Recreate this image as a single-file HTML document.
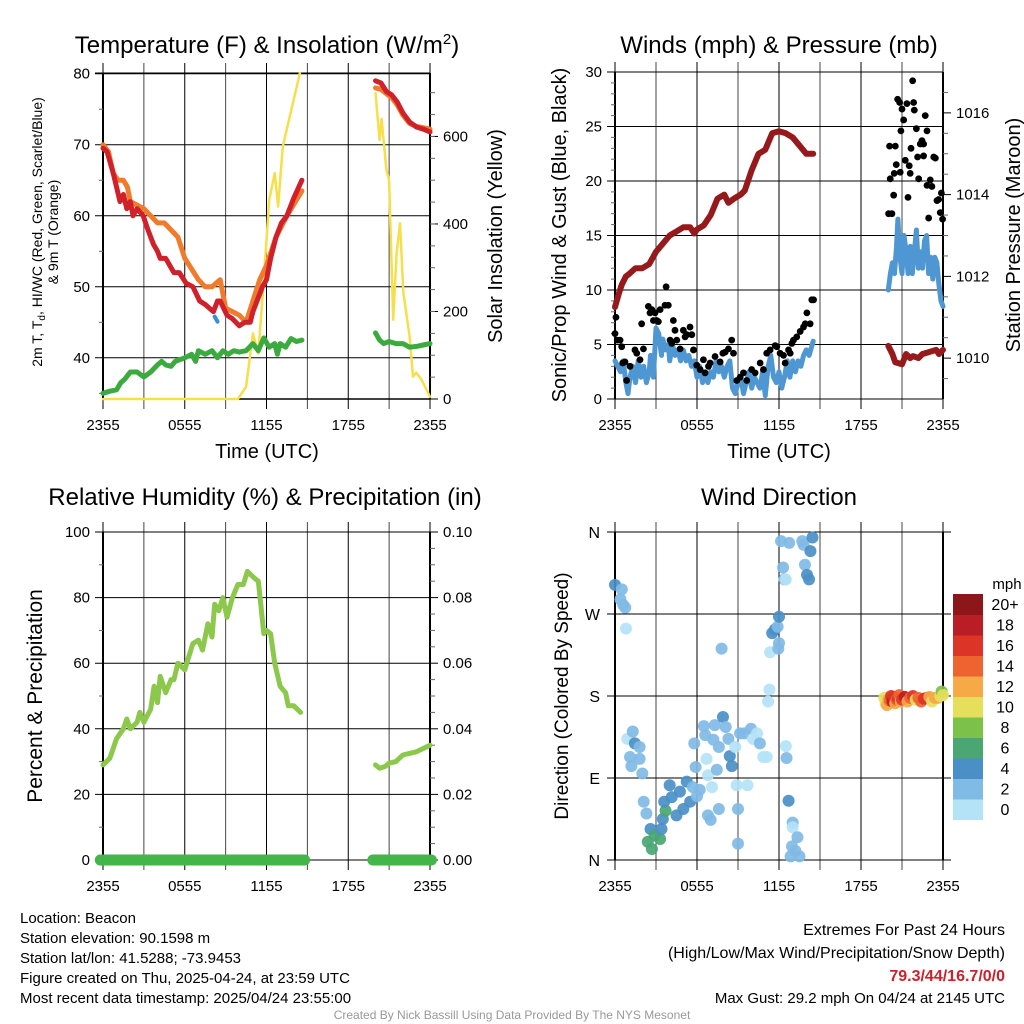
<!DOCTYPE html>
<html><head><meta charset="utf-8"><style>
html,body{margin:0;padding:0;background:#fff;width:1024px;height:1024px;overflow:hidden}
svg text{font-family:"Liberation Sans",sans-serif}
</style></head><body>
<svg id="c" width="1024" height="1024" xmlns="http://www.w3.org/2000/svg"></svg>
<script>
// ---------- DATA (time in hours after 2355 UTC) ----------
const xTickHours=[0,6,12,18,24];
const xTickLabels=["2355","0555","1155","1755","2355"];
const tRed1=[[0,69.5],[0.3,69],[0.75,66],[1.0,64],[1.25,62],[1.5,63],[1.75,61],[2.0,62],[2.2,60],[2.5,61],[2.95,60],[3.3,58],[3.7,56],[4.0,55],[4.2,54],[4.6,54],[5.2,52],[5.6,52],[6.1,50.5],[6.6,50],[7.1,48],[7.5,47.5],[8.1,46.5],[8.4,48],[8.6,48],[9.1,46],[9.5,45.5],[10.0,44.5],[10.4,45],[10.8,45],[11.0,46.5],[11.3,48],[11.7,50],[12.0,51],[12.3,54],[12.7,57],[13.1,59],[13.5,60],[14.0,62.5],[14.6,65]];
const tOrange1=[[0,70],[0.4,69],[0.75,66],[1.1,65],[1.5,65],[1.8,64],[2.0,62],[2.5,61.5],[3.0,61],[3.5,60],[4.0,59],[4.5,59],[5.0,58],[5.5,57],[6.0,54],[6.5,52.5],[7.0,51],[7.5,50],[8.0,50],[8.6,51],[9.0,47],[9.5,46.5],[10.0,46],[10.5,45],[11.0,48],[11.5,51],[12.0,53],[12.7,57],[13.5,60],[14.6,63.5]];
const tRed2=[[20.0,79],[20.4,78.7],[20.8,77.5],[21.2,77],[21.6,76],[22.0,74.5],[22.5,73.2],[23.0,72.5],[23.5,72.2],[24,71.8]];
const tOrange2=[[20.0,78],[20.4,77.8],[20.8,77.2],[21.2,76.6],[21.6,75.6],[22.0,74.2],[22.5,73],[23.0,72.6],[23.5,72.4],[24,72.2]];
const tBlue=[[8.2,45.8],[8.4,45.1]];
const tGreen1=[[0,35],[0.5,35.3],[1.0,35.5],[1.3,36.5],[1.6,37],[2.0,38],[2.5,38],[3.0,37.3],[3.5,38],[4.0,39],[4.3,39.5],[4.6,39],[5.0,38.8],[5.3,39.5],[6.0,40],[6.5,40.5],[6.8,39.5],[7.0,41],[7.5,40.5],[8.0,41],[8.4,40],[8.8,41],[9.2,40.5],[9.6,41],[10.0,40.8],[10.5,41],[11.0,42],[11.4,41],[11.8,42.8],[12.2,41.5],[12.6,42],[12.8,40.5],[13.0,42],[13.4,41.5],[13.8,42.7],[14.2,42.3],[14.6,42.5]];
const tGreen2=[[20.0,43.5],[20.3,42.5],[20.6,42],[21.0,42.3],[21.5,42],[22.0,42],[22.5,41.5],[23.0,41.6],[23.5,41.8],[24,42]];
const sol1=[[0,0],[9.9,0],[10.5,28],[11.0,150],[11.4,104],[11.8,272],[12.2,455],[12.6,516],[12.85,440],[13.2,577],[14.45,745]];
const sol2=[[20.0,699],[20.3,592],[20.45,640],[20.8,524],[21.0,500],[21.3,181],[21.55,333],[21.8,402],[22.05,242],[22.5,143],[22.75,51],[23.0,60],[23.4,43],[24,5]];
const wind1=[[0,3.5],[0.2,3],[0.4,2.5],[0.6,3.5],[0.8,1.5],[0.95,0.5],[1.1,2],[1.3,3],[1.5,1.5],[1.7,3.5],[1.9,2],[2.1,3],[2.3,1.5],[2.5,2.5],[2.6,4],[2.8,2],[2.9,4],[3.0,6.5],[3.2,6],[3.4,4],[3.5,5.5],[3.7,4.5],[3.9,5],[4.0,3.5],[4.2,5],[4.4,4],[4.6,4.5],[4.8,3.5],[5.0,4.5],[5.2,3.5],[5.4,4],[5.6,3],[5.8,3.5],[6.0,2],[6.2,3],[6.4,1.5],[6.6,2.5],[6.8,1.5],[7.0,2.5],[7.2,2],[7.4,3.5],[7.6,2.5],[7.8,3],[8.0,2],[8.2,3],[8.4,3.5],[8.6,1],[8.8,0.5],[9.0,1.5],[9.2,2],[9.4,0.5],[9.6,1.5],[9.8,2.5],[10.0,1],[10.2,2],[10.4,1.5],[10.6,1],[10.8,2.5],[11.0,0.3],[11.2,3],[11.4,4],[11.6,2],[11.8,1.5],[12.0,2.5],[12.2,1],[12.4,2],[12.6,3.5],[12.8,2],[13.0,3.5],[13.2,2.5],[13.4,3.5],[13.6,3],[13.8,4],[14.0,4.5],[14.2,4],[14.5,5.3]];
const wind2=[[20.0,10],[20.15,11.5],[20.3,12.5],[20.45,11.5],[20.6,14],[20.7,16.5],[20.85,13],[21.0,11.5],[21.15,15],[21.3,13.5],[21.45,11.5],[21.6,14],[21.75,11.5],[21.9,13.5],[22.05,15.5],[22.2,12],[22.35,13.5],[22.5,12],[22.65,14.5],[22.8,15],[22.95,11.5],[23.1,13],[23.25,11],[23.4,13],[23.55,12.5],[23.7,10.5],[23.85,9],[24,8.5]];
const gust=[[0,6.0],[0.07,7.5],[0.17,5.4],[0.37,5.4],[0.49,4.8],[0.56,3.3],[0.73,3.4],[0.85,1.7],[1.1,3.0],[1.46,4.5],[1.59,4.2],[1.83,3.6],[1.95,6.9],[2.08,4.6],[2.44,8.5],[2.56,7.9],[2.69,8.2],[2.81,7.2],[2.93,7.9],[3.05,7.2],[3.17,7.1],[3.3,8.2],[3.74,10.3],[3.66,8.6],[3.9,8.6],[4.03,5.4],[4.15,5.1],[4.27,7.2],[4.39,6.3],[4.52,5.4],[4.76,4.6],[5.0,6.3],[5.13,5.7],[5.25,5.9],[5.49,6.6],[5.62,5.9],[5.74,4.5],[5.98,3.1],[6.23,2.7],[6.47,3.6],[6.59,2.4],[6.84,3.0],[6.96,3.3],[7.32,3.9],[7.69,3.4],[7.89,4.2],[8.06,4.3],[8.3,4.6],[8.54,5.4],[8.67,4.2],[8.91,1.7],[9.16,2.0],[9.4,2.4],[9.64,1.7],[10.0,2.7],[10.25,2.4],[10.62,3.3],[10.86,2.7],[11.1,4.2],[11.35,4.5],[11.72,4.9],[11.84,4.8],[12.08,4.2],[12.33,4.0],[12.45,3.3],[12.7,4.5],[12.82,4.2],[12.94,5.1],[13.06,5.4],[13.3,5.7],[13.55,6.2],[13.79,6.6],[13.92,6.9],[14.04,7.9],[14.28,6.9],[14.4,9.1],[14.53,9.1],
[20.02,17.0],[20.26,17.0],[20.09,23.2],[20.51,23.2],[20.14,20.2],[20.39,18.7],[20.43,20.7],[20.58,21.5],[20.68,27.5],[20.83,27.2],[20.87,20.8],[21.0,26.6],[20.92,24.6],[21.12,25.6],[21.24,21.9],[21.36,27.1],[21.44,18.5],[21.53,21.4],[21.6,20.7],[21.66,23.0],[21.78,29.2],[21.85,27.2],[21.9,26.5],[22.05,24.8],[22.14,22.2],[22.22,20.2],[22.34,23.4],[22.46,23.7],[22.58,23.4],[22.58,22.3],[22.7,26.0],[22.83,24.6],[22.83,19.6],[22.95,16.6],[23.07,20.1],[23.19,19.5],[23.32,22.2],[23.44,22.1],[23.56,18.2],[23.68,18.3],[23.8,17.1],[23.88,18.9],[23.97,16.5]];
const pres1=[[0,1011.25],[0.3,1011.6],[0.5,1011.8],[0.8,1012.0],[1.0,1012.05],[1.5,1012.2],[2.0,1012.2],[2.5,1012.3],[3.0,1012.6],[3.5,1012.8],[4.0,1013.0],[4.5,1013.1],[5.0,1013.2],[5.5,1013.2],[5.8,1013.05],[6.0,1013.15],[6.5,1013.25],[7.0,1013.5],[7.5,1013.9],[8.0,1014.0],[8.3,1013.8],[8.7,1013.9],[9.2,1014.0],[9.5,1014.1],[10.0,1014.6],[10.5,1015.0],[11.0,1015.1],[11.5,1015.5],[12.0,1015.55],[12.5,1015.5],[13.0,1015.4],[13.5,1015.2],[14.0,1015.0],[14.5,1015.0]];
const pres2=[[20.0,1010.3],[20.3,1010.1],[20.5,1009.9],[21.0,1009.85],[21.3,1010.1],[21.6,1010.0],[21.8,1010.05],[22.2,1010.0],[22.5,1010.1],[23.0,1010.15],[23.5,1010.2],[23.7,1010.1],[24,1010.2]];
const rh1=[[0,29],[0.5,31],[1.0,37],[1.5,40],[1.75,43],[2.0,40],[2.5,42],[2.7,45],[3.0,42],[3.5,46],[3.75,53],[4.0,48],[4.2,56],[4.6,51],[5.0,55],[5.2,55],[5.5,60],[6.0,58],[6.3,62],[6.6,66],[7.0,67],[7.3,64],[7.7,72],[8.0,68],[8.2,78],[8.5,76],[8.8,80],[9.1,74],[9.5,80],[9.9,84],[10.3,84],[10.6,88],[11.1,86],[11.4,85],[11.6,77],[11.8,69],[12.0,70],[12.3,69],[12.6,60],[13.0,53],[13.4,51],[13.6,47],[14.0,47],[14.5,45]];
const rh2=[[20.0,29],[20.3,28],[20.7,28.5],[21.0,29.5],[21.5,30],[22.0,32],[23.0,33],[24,35]];
const precip1=[[-0.2,0],[14.8,0]];
const precip2=[[19.8,0],[24.1,0]];
const dirHours=[0,0.5,0.4,0.6,0.75,0.8,0.9,1.3,1.45,1.1,1.2,1.8,1.8,2,2.1,2.3,2.6,2.4,2.7,2.9,3.3,3.4,3.5,3.7,3.6,4,4.15,4.5,4.75,5,5.25,5.5,5.7,5.8,5.9,6,6.5,6.6,6.2,6.7,6.8,7.1,7.2,7.3,7.45,7.6,7.6,6.8,7,7.8,7.9,8.1,8.3,8.4,8.55,8.8,8.9,9,9,9.15,9.45,9.7,9.95,10.1,10.4,10.6,10.85,11.1,11.2,11.3,11.35,11.5,11.7,11.9,12,12,11.95,12.15,12.3,12.4,12.5,12.75,12.5,12.55,12.7,13,13,12.95,13.2,13.35,13.5,12.85,13.7,13.8,13.9,14.05,14.2,14.3,14.45,
19.7,19.8,19.9,20.0,20.1,20.2,20.3,20.4,20.5,20.6,20.7,20.8,20.9,21.0,21.2,21.4,21.6,21.8,22.0,22.2,22.4,22.6,22.8,23.0,23.2,23.4,23.6,23.8,23.9,24.0];
const dirDeg=[302,297,286,280,277,254,133,141,128,113,103,124,111,95,64,51,34,20,12,27,23,34,45,54,64,82,69,49,75,56,86,64,80,128,102,70,147,137,77,111,93,80,132,148,99,56,124,49,44,232,157,146,133,114,103,124,82,56,18,139,139,82,144,133,139,128,113,113,174,187,228,249,253,256,267,238,232,350,321,308,308,348,125,112,65,41,36,15,10,25,4,4,350,346,324,313,308,339,354,
178,172,170,176,175,180,174,179,172,176,177,181,174,176,179,174,178,180,176,178,174,177,178,179,174,178,178,180,185,181];
const dirSpeed=[4,3,3,3,3,1,1,3,5,3,3,3,3,3,3,3,5,7,7,7,7,5,5,7,5,5,5,5,5,5,5,5,3,3,3,3,3,3,3,1,1,1,3,3,3,3,3,3,3,3,5,3,3,5,5,1,1,3,3,3,3,1,3,1,1,3,1,1,1,1,1,5,5,3,5,3,3,3,3,3,1,3,1,3,5,3,1,3,3,3,3,3,3,3,3,5,5,5,5,
11,10,12,13,15,17,19,16,13,15,17,14,12,16,18,13,15,17,11,15,14,17,16,13,11,13,12,11,9,10];
const speedBins=[0,2,4,6,8,10,12,14,16,18,20];
const binLabels=["0","2","4","6","8","10","12","14","16","18","20+"];
const binColors=["#b4e3f7","#80bbe5","#4a8fc6","#4aa672","#7cc14a","#e6df5c","#f5a947","#ee6431","#dc3527","#b91d25","#8c161a"];

// ---------- DRAWING ----------
const S=document.getElementById('c');const NS="http://www.w3.org/2000/svg";
function el(tag,attrs,parent,txt){const e=document.createElementNS(NS,tag);for(const k in attrs)e.setAttribute(k,attrs[k]);if(txt!==undefined)e.textContent=txt;(parent||S).appendChild(e);return e;}
function lin(d0,d1,r0,r1){return v=>r0+(v-d0)/(d1-d0)*(r1-r0);}
function panel(name,L,R,T,B){
  const g=el('g',{},S);
  const x=lin(0,24,L,R);
  for(let h=0;h<=24;h+=3){const px=x(h);el('line',{x1:px,y1:T-10,x2:px,y2:B+10,stroke:(h%6==0)?'#000':'#444','stroke-width':1},g);}
  xTickHours.forEach((h,i)=>{const t=el('text',{x:x(h),y:B+31,'text-anchor':'middle','font-size':15},g,xTickLabels[i]);});
  el('line',{x1:L,y1:T,x2:L,y2:B,stroke:'#000','stroke-width':2},g);
  el('line',{x1:R,y1:T,x2:R,y2:B,stroke:'#000','stroke-width':2},g);
  return {g,x};
}
function yAxis(g,L,R,T,B,d0,d1,ticks,labels,side,minor){
  const y=lin(d0,d1,B,T);
  ticks.forEach((v,i)=>{const py=y(v);
    if(side=='L'){el('line',{x1:L-8,y1:py,x2:R,y2:py,stroke:'#000','stroke-width':1},g);
      el('text',{x:L-13,y:py+5,'text-anchor':'end','font-size':15},g,labels[i]);}
    else{el('line',{x1:R,y1:py,x2:R+8,y2:py,stroke:'#000','stroke-width':1},g);
      el('text',{x:R+13,y:py+5,'text-anchor':'start','font-size':15},g,labels[i]);}
  });
  if(minor){minor.forEach(v=>{const py=y(v);if(side=='L')el('line',{x1:L-4,y1:py,x2:L,y2:py,stroke:'#666'},g);else el('line',{x1:R,y1:py,x2:R+5,y2:py,stroke:'#666'},g);});}
  return y;
}
function path(g,data,x,y,color,w,name){
  const d=data.map((p,i)=>(i?'L':'M')+x(p[0]).toFixed(1)+','+y(p[1]).toFixed(1)).join('');
  const p=el('path',{d,fill:'none',stroke:color,'stroke-width':w,'stroke-linejoin':'round','stroke-linecap':'round'},g);
  return p;
}
function rng(a,b,s){const r=[];for(let v=a;v<=b+1e-9;v+=s)r.push(+v.toFixed(3));return r;}

// Panel 1
{const L=103,R=430,T=73,B=399;
 const tt=el('text',{x:267,y:53,'text-anchor':'middle','font-size':24},S);
 tt.innerHTML='Temperature (F) &amp; Insolation (W/m<tspan dy="-9" font-size="15">2</tspan><tspan dy="9">)</tspan>';
 const {g,x}=panel('temperature-panel',L,R,T,B);
 const y=yAxis(g,L,R,T,B,34.2,80.1,[40,50,60,70,80],["40","50","60","70","80"],'L',[35,45,55,65,75]);
 el('line',{x1:L-8,y1:T,x2:R,y2:T,stroke:'#000','stroke-width':1},g);
 const y2=yAxis(g,L,R,T,B,0,745,[0,200,400,600],["0","200","400","600"],'R',rng(50,700,50));
 el('line',{x1:L,y1:B,x2:R,y2:B,stroke:'#000','stroke-width':1.5},g);
 path(g,sol1,x,y2,'#f7df4a',2.5,'insolation-line');path(g,sol2,x,y2,'#f7df4a',2.5,'insolation-line');
 path(g,tGreen1,x,y,'#3cab3f',5,'dewpoint-line');path(g,tGreen2,x,y,'#3cab3f',5,'dewpoint-line');
 path(g,tOrange1,x,y,'#f07b2c',5,'9m-temp-line');path(g,tOrange2,x,y,'#f07b2c',5,'9m-temp-line');
 path(g,tRed1,x,y,'#d0202a',5,'2m-temp-line');path(g,tRed2,x,y,'#d0202a',5,'2m-temp-line');
 path(g,tBlue,x,y,'#3a8fd0',4,'windchill-line');
 const t1=el('text',{x:0,y:0,'text-anchor':'middle','font-size':14,transform:'translate(42,232) rotate(-90)'},S);t1.innerHTML='2m T, T<tspan dy="3" font-size="10">d</tspan><tspan dy="-3">, HI/WC (Red, Green, Scarlet/Blue)</tspan>';
 
 const t2=el('text',{x:0,y:0,'text-anchor':'middle','font-size':14,transform:'translate(58,232) rotate(-90)'},S,'& 9m T (Orange)');
 const t3=el('text',{x:0,y:0,'text-anchor':'middle','font-size':20,transform:'translate(502,236) rotate(-90)'},S,'Solar Insolation (Yellow)');
 const t4=el('text',{x:267,y:458,'text-anchor':'middle','font-size':20},S,'Time (UTC)');
}
// Panel 2
{const L=615,R=943,T=72,B=399;
 const tt=el('text',{x:779,y:53,'text-anchor':'middle','font-size':24},S,'Winds (mph) & Pressure (mb)');
 const {g,x}=panel('winds-panel',L,R,T,B);
 const y=yAxis(g,L,R,T,B,0,30,[0,5,10,15,20,25,30],["0","5","10","15","20","25","30"],'L',rng(1,29,1).filter(v=>v%5));
 const y2=yAxis(g,L,R,T,B,1009,1017,[1010,1012,1014,1016],["1010","1012","1014","1016"],'R',rng(1009.5,1016.5,0.5).filter(v=>v%2));
 path(g,wind1,x,y,'#4f97d2',5,'sustained-wind-line');path(g,wind2,x,y,'#4f97d2',5,'sustained-wind-line');
 gust.forEach(p=>{const c=el('circle',{cx:x(p[0]),cy:y(p[1]),r:3.4,fill:'#000'},g);});
 path(g,pres1,x,y2,'#961a1c',6,'pressure-line');path(g,pres2,x,y2,'#961a1c',6,'pressure-line');
 const t1=el('text',{x:0,y:0,'text-anchor':'middle','font-size':20,transform:'translate(566,235) rotate(-90)'},S,'Sonic/Prop Wind & Gust (Blue, Black)');
 const t2=el('text',{x:0,y:0,'text-anchor':'middle','font-size':20,transform:'translate(1020,235) rotate(-90)'},S,'Station Pressure (Maroon)');
 const t4=el('text',{x:779,y:458,'text-anchor':'middle','font-size':20},S,'Time (UTC)');
}
// Panel 3
{const L=103,R=430,T=532,B=860;
 const tt=el('text',{x:265,y:505,'text-anchor':'middle','font-size':24},S,'Relative Humidity (%) & Precipitation (in)');
 const {g,x}=panel('humidity-panel',L,R,T,B);
 const y=yAxis(g,L,R,T,B,0,100,[0,20,40,60,80,100],["0","20","40","60","80","100"],'L',[10,30,50,70,90]);
 const y2=yAxis(g,L,R,T,B,0,0.1,[0,0.02,0.04,0.06,0.08,0.1],["0.00","0.02","0.04","0.06","0.08","0.10"],'R',rng(0.005,0.095,0.005).filter((v,i)=>i%4!=3));
 path(g,rh1,x,y,'#8cc84b',5,'humidity-line');path(g,rh2,x,y,'#8cc84b',5,'humidity-line');
 path(g,precip1,x,y2,'#44b549',11,'precip-line');path(g,precip2,x,y2,'#44b549',11,'precip-line');
 const t1=el('text',{x:0,y:0,'text-anchor':'middle','font-size':21,transform:'translate(42,696) rotate(-90)'},S,'Percent & Precipitation');
}
// Panel 4
{const L=615,R=943,T=532,B=860;
 const tt=el('text',{x:779,y:505,'text-anchor':'middle','font-size':24},S,'Wind Direction');
 const {g,x}=panel('wind-direction-panel',L,R,T,B);
 const y=lin(0,360,B,T);
 [[0,'N'],[90,'E'],[180,'S'],[270,'W'],[360,'N']].forEach(a=>{const py=y(a[0]);el('line',{x1:L-8,y1:py,x2:R+8,y2:py,stroke:'#000'},g);el('text',{x:L-15,y:py+6,'text-anchor':'end','font-size':16},g,a[1]);});
 const binOf=s=>{let b=0;speedBins.forEach((v,i)=>{if(s>=v)b=i;});return b;};
 dirHours.forEach((h,i)=>{const c=el('circle',{cx:x(h),cy:y(dirDeg[i]),r:6,fill:binColors[binOf(dirSpeed[i])],'fill-opacity':0.92},g);});
 const t1=el('text',{x:0,y:0,'text-anchor':'middle','font-size':19,transform:'translate(568,696) rotate(-90)'},S,'Direction (Colored By Speed)');
 const lg=el('g',{},S);
 const bh=20.5,top=594;
 binColors.forEach((c,i)=>{const k=binColors.length-1-i;el('rect',{x:953,y:top+k*bh,width:30,height:bh+0.5,fill:c},lg);
   el('text',{x:1005,y:top+k*bh+16,'text-anchor':'middle','font-size':16},lg,binLabels[i]);});
 el('text',{x:1007,y:589,'text-anchor':'middle','font-size':15},lg,'mph');
}
// Footer
{const f=el('g',{},S);
 ["Location: Beacon","Station elevation: 90.1598 m","Station lat/lon: 41.5288; -73.9453","Figure created on Thu, 2025-04-24, at 23:59 UTC","Most recent data timestamp: 2025/04/24 23:55:00"].forEach((s,i)=>el('text',{x:20,y:923+i*20,'font-size':15},f,s));
 el('text',{x:1005,y:935,'text-anchor':'end','font-size':16},f,'Extremes For Past 24 Hours');
 el('text',{x:1005,y:958,'text-anchor':'end','font-size':16},f,'(High/Low/Max Wind/Precipitation/Snow Depth)');
 el('text',{x:1005,y:981,'text-anchor':'end','font-size':16,'font-weight':'bold',fill:'#d0202a'},f,'79.3/44/16.7/0/0');
 el('text',{x:1005,y:1003,'text-anchor':'end','font-size':15},f,'Max Gust: 29.2 mph On 04/24 at 2145 UTC');
 el('text',{x:512,y:1019,'text-anchor':'middle','font-size':12,fill:'#999'},f,'Created By Nick Bassill Using Data Provided By The NYS Mesonet');
}
</script>
</body></html>
